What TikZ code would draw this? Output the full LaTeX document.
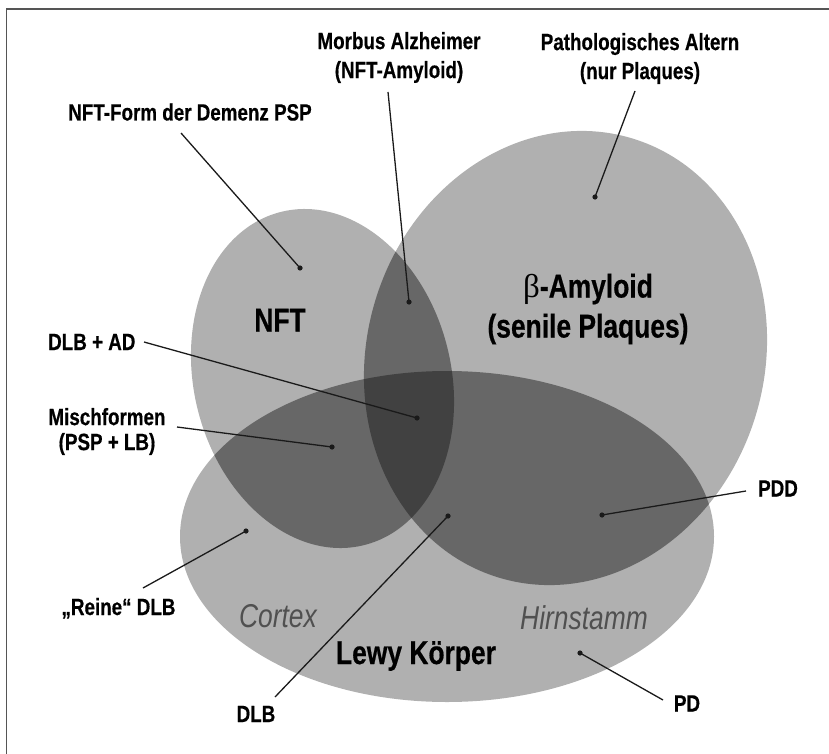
\documentclass[tikz,border=0pt]{standalone}
\usepackage{fontspec}
\setmainfont{Liberation Sans}[FakeStretch=0.8, BoldFeatures={FakeBold=0.5}]
\newfontfamily\betafont{Liberation Serif}
\definecolor{greyone}{HTML}{B0B0B0}
\definecolor{greytwo}{HTML}{676767}
\definecolor{greythree}{HTML}{414141}
\definecolor{leadcol}{HTML}{1A1A1A}
\definecolor{regtext}{HTML}{505050}
\definecolor{framecol}{HTML}{555555}
\begin{document}
\begin{tikzpicture}[x=1pt,y=-1pt,
  nftT/.style={rotate around={14:(322.5,378.5)}},
  amyT/.style={rotate around={-17:(565.5,358)}},
  lab/.style={font=\bfseries\fontsize{23.5}{29}\selectfont, inner sep=0pt, text=black},
  big/.style={font=\bfseries\fontsize{33}{40}\selectfont, inner sep=0pt, text=black},
  regionlab/.style={font=\itshape\fontsize{33}{40}\selectfont, inner sep=0pt, text=regtext},
  leader/.style={line width=1.3pt, draw=leadcol},
  tipdot/.style={circle, fill=leadcol, inner sep=0pt, minimum size=5.2pt}]
\useasboundingbox (0,0) rectangle (829,754);
% frame
\draw[framecol, line width=1.8pt] (6.5,754) -- (6.5,9) -- (829,9);
% single regions
\fill[greyone, nftT] (322.5,378.5) ellipse [x radius=128.6pt, y radius=171.7pt];
\fill[greyone, amyT] (565.5,358) ellipse [x radius=198.7pt, y radius=229.5pt];
\fill[greyone] (447,536.5) ellipse [x radius=267pt, y radius=165.5pt];
% pairwise overlaps
\begin{scope}
  \clip[nftT] (322.5,378.5) ellipse [x radius=128.6pt, y radius=171.7pt];
  \fill[greytwo, amyT] (565.5,358) ellipse [x radius=198.7pt, y radius=229.5pt];
  \fill[greytwo] (447,536.5) ellipse [x radius=267pt, y radius=165.5pt];
\end{scope}
\begin{scope}
  \clip[amyT] (565.5,358) ellipse [x radius=198.7pt, y radius=229.5pt];
  \fill[greytwo] (447,536.5) ellipse [x radius=267pt, y radius=165.5pt];
\end{scope}
% triple overlap
\begin{scope}
  \clip[nftT] (322.5,378.5) ellipse [x radius=128.6pt, y radius=171.7pt];
  \clip[amyT] (565.5,358) ellipse [x radius=198.7pt, y radius=229.5pt];
  \fill[greythree] (447,536.5) ellipse [x radius=267pt, y radius=165.5pt];
\end{scope}
% region texts
\node[big, anchor=base] (nft) at (280,331.5) {NFT};
\node[big, align=center] (amy) at (588,309) {{\mdseries\betafont β}-Amyloid\\(senile Plaques)};
\node[big, anchor=base] (lewy) at (416,664) {Lewy Körper};
\node[regionlab, anchor=base] (cortex) at (278,627.5) {Cortex};
\node[regionlab, anchor=base] (hirn) at (584,629.5) {Hirnstamm};
% labels
\node[lab, align=center] (morbus) at (399,57.5) {Morbus Alzheimer\\(NFT-Amyloid)};
\node[lab, align=center] (patho) at (640,58.5) {Pathologisches Altern\\(nur Plaques)};
\node[lab, anchor=base] (nftform) at (190,120.5) {NFT-Form der Demenz PSP};
\node[lab, anchor=base west] (dlbad) at (48,350) {DLB + AD};
\node[lab, align=center, font=\bfseries\fontsize{23.5}{25}\selectfont] (misch) at (107,431.5) {Mischformen\\(PSP + LB)};
\node[lab, anchor=base] (reine) at (118.5,615) {„Reine“ DLB};
\node[lab, anchor=base] (pdd) at (778,496.5) {PDD};
\node[lab, anchor=base] (pd) at (687,711.5) {PD};
\node[lab, anchor=base] (dlb) at (256,722) {DLB};
% leader start points
\coordinate (sMorbus) at (388,92);
\coordinate (sPatho) at (635,91);
\coordinate (sNftform) at (181,133);
\coordinate (sDlbad) at (144,342);
\coordinate (sMisch) at (177,427);
\coordinate (sReine) at (143,588);
\coordinate (sDlb) at (275,697);
\coordinate (sPdd) at (746,491);
\coordinate (sPd) at (663,700);
% dots
\node[tipdot] (dMorbus) at (409,302) {};
\node[tipdot] (dPatho) at (595,197) {};
\node[tipdot] (dNftform) at (300,268) {};
\node[tipdot] (dDlbad) at (417,418) {};
\node[tipdot] (dMisch) at (332,447) {};
\node[tipdot] (dReine) at (246,531) {};
\node[tipdot] (dDlb) at (448,516) {};
\node[tipdot] (dPdd) at (602,515) {};
\node[tipdot] (dPd) at (580,653) {};
% leaders
\draw[leader] (sMorbus) -- (dMorbus.center);
\draw[leader] (sPatho) -- (dPatho.center);
\draw[leader] (sNftform) -- (dNftform.center);
\draw[leader] (sDlbad) -- (dDlbad.center);
\draw[leader] (sMisch) -- (dMisch.center);
\draw[leader] (sReine) -- (dReine.center);
\draw[leader] (sDlb) -- (dDlb.center);
\draw[leader] (sPdd) -- (dPdd.center);
\draw[leader] (sPd) -- (dPd.center);
\end{tikzpicture}
\end{document}
